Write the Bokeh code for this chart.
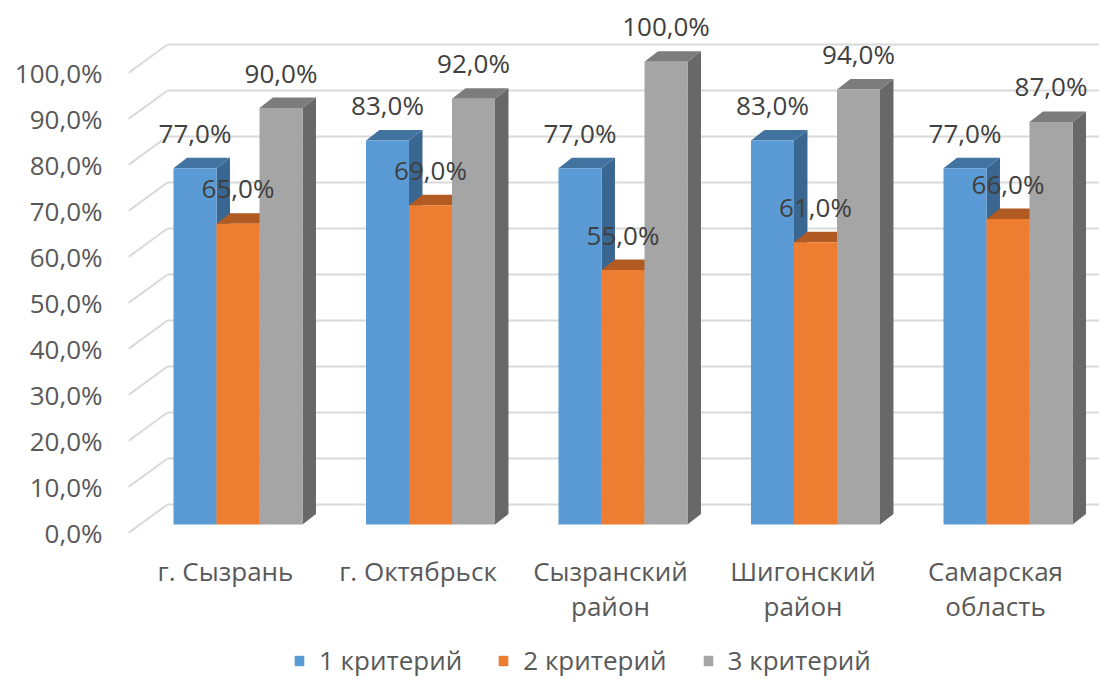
from bokeh.plotting import figure
from bokeh.models import ColumnDataSource, FixedTicker, Legend, LegendItem, Range1d
from bokeh.core.properties import value
from bokeh.embed import file_html
from bokeh.resources import INLINE

# ---------------- data ----------------
categories = ["г. Сызрань", "г. Октябрьск", "Сызранский\nрайон", "Шигонский\nрайон", "Самарская\nобласть"]
series_names = ["1 критерий", "2 критерий", "3 критерий"]
crit1 = [77.0, 83.0, 77.0, 83.0, 77.0]
crit2 = [65.0, 69.0, 55.0, 61.0, 66.0]
crit3 = [90.0, 92.0, 100.0, 94.0, 87.0]
yticks = [0, 10, 20, 30, 40, 50, 60, 70, 80, 90, 100]
ytick_labels = ["0,0%", "10,0%", "20,0%", "30,0%", "40,0%", "50,0%",
                "60,0%", "70,0%", "80,0%", "90,0%", "100,0%"]

# ---------------- style / projection constants ----------------
FONT = "Open Sans"
FS = "26px"
AX_COLOR = "#595959"
LBL_COLOR = "#404040"
GRID = "#D9D9D9"
FRONT = ["#5B9BD5", "#ED7D31", "#A5A5A5"]
TOP = ["#42729F", "#B15A22", "#7C7C7C"]
SIDE = ["#3A6791", "#A14F1B", "#686868"]

W = 0.2234            # bar width (category units)
DX, DY = 0.070, 2.28  # bar depth projection
BASE = 1.85           # bar plane floor relative to front axis plane
K = 1.006             # bar plane scale
WALL_DX, WALL_DY = 0.2026, 6.2   # back wall projection
X_LEFT, X_RIGHT = -0.5688, 4.4753
LBL_DY = 7.7          # data label baseline above bar top
CAT_DX = -0.065
CAT_Y1, CAT_Y2 = -8.3, -15.9

p = figure(width=1099, height=680,
           x_range=Range1d(X_LEFT, X_RIGHT), y_range=Range1d(-32.07, 115.76),
           output_backend="svg", toolbar_location=None, x_axis_location=None,
           min_border_left=128, min_border_right=0, min_border_top=0, min_border_bottom=0)
p.grid.visible = False
p.outline_line_color = None
p.background_fill_color = "white"
p.border_fill_color = "white"

# y axis
ax = p.yaxis[0]
ax.ticker = FixedTicker(ticks=yticks)
ax.major_label_overrides = {t: l for t, l in zip(yticks, ytick_labels)}
ax.axis_line_color = None
ax.major_tick_line_color = None
ax.minor_tick_line_color = None
ax.major_tick_out = 0
ax.major_tick_in = 0
ax.major_label_standoff = 26
ax.major_label_text_font = FONT
ax.major_label_text_font_size = FS
ax.major_label_text_color = AX_COLOR

# gridlines: side wall (slanted) + back wall
xb = X_LEFT + WALL_DX
p.segment(x0=[X_LEFT] * len(yticks), y0=yticks, x1=[xb] * len(yticks),
          y1=[t + WALL_DY for t in yticks], line_color=GRID, line_width=2)
p.segment(x0=[xb] * len(yticks), y0=[t + WALL_DY for t in yticks],
          x1=[X_RIGHT + 0.1] * len(yticks), y1=[t + WALL_DY for t in yticks],
          line_color=GRID, line_width=2)

# bars
series = [crit1, crit2, crit3]
front_renderers = []
for j, vals in enumerate(series):
    left = [i + (j - 1.5) * W for i in range(len(categories))]
    right = [l + W for l in left]
    top = [BASE + v * K for v in vals]
    bottom = [BASE] * len(vals)
    side_xs = [[r, r + DX, r + DX, r] for r in right]
    side_ys = [[BASE, BASE + DY, t + DY, t] for t in top]
    top_xs = [[l, r, r + DX, l + DX] for l, r in zip(left, right)]
    top_ys = [[t, t, t + DY, t + DY] for t in top]
    p.patches(xs=side_xs, ys=side_ys, fill_color=SIDE[j], line_color=None)
    p.patches(xs=top_xs, ys=top_ys, fill_color=TOP[j], line_color=None)
    src = ColumnDataSource(dict(left=left, right=right, top=top, bottom=bottom))
    r = p.quad(left="left", right="right", top="top", bottom="bottom", source=src,
               fill_color=FRONT[j], line_color=None)
    front_renderers.append(r)

# data labels
for j, vals in enumerate(series):
    xs = [i + (j - 1) * W for i in range(len(categories))]
    ys = [BASE + v * K + LBL_DY for v in vals]
    txt = [("%.1f%%" % v).replace(".", ",") for v in vals]
    p.text(x=xs, y=ys, text=txt, text_font=value(FONT), text_font_size=value(FS),
           text_color=LBL_COLOR, text_align="center", text_baseline="alphabetic")

# category labels
line1 = [c.split("\n")[0] for c in categories]
line2 = [c.split("\n")[1] if "\n" in c else "" for c in categories]
cx = [i + CAT_DX for i in range(len(categories))]
p.text(x=cx, y=[CAT_Y1] * len(cx), text=line1, text_font=value(FONT), text_font_size=value(FS),
       text_color=AX_COLOR, text_align="center", text_baseline="alphabetic")
p.text(x=cx, y=[CAT_Y2] * len(cx), text=line2, text_font=value(FONT), text_font_size=value(FS),
       text_color=AX_COLOR, text_align="center", text_baseline="alphabetic")

# legend
legend = Legend(items=[LegendItem(label=n, renderers=[r]) for n, r in zip(series_names, front_renderers)],
                orientation="horizontal", location=(165, 2),
                glyph_width=12, glyph_height=13, label_standoff=14, spacing=35,
                padding=0, margin=0, border_line_color=None, background_fill_alpha=0,
                label_text_font=FONT, label_text_font_size=FS, label_text_color=AX_COLOR)
p.add_layout(legend)

open("out.html", "w").write(file_html(p, INLINE))
